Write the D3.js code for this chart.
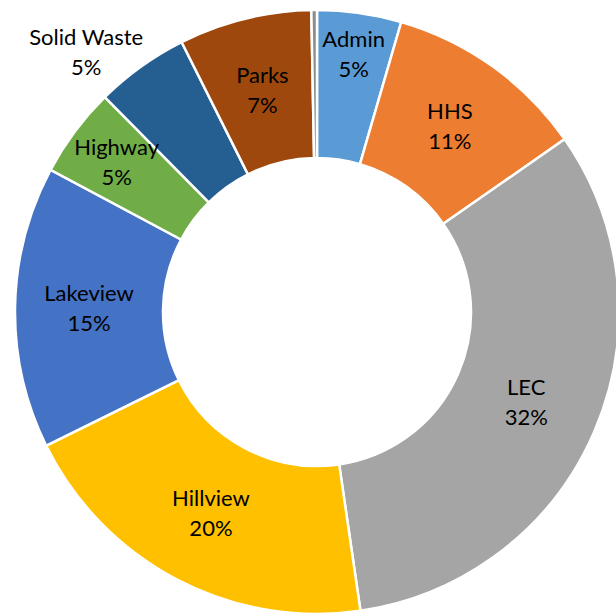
<!DOCTYPE html>
<html>
<head>
<meta charset="utf-8">
<script src="https://cdn.jsdelivr.net/npm/d3@7"></script>
<style>
  body { margin: 0; background: #fff; }
  svg { display: block; }
</style>
</head>
<body>
<div id="donut-chart"></div>
<script>
// departments, clockwise from 12 o'clock
var categories = ["Admin", "HHS", "LEC", "Hillview", "Lakeview", "Highway", "Solid Waste", "Parks", "Other"]
var values = [4.5, 10.8, 32.4, 20.0, 15.1, 4.8, 5.0, 7.1, 0.3]
var colors = ["#5B9BD5", "#ED7D31", "#A5A5A5", "#FFC000", "#4472C4", "#70AD47", "#255E91", "#9E480E", "#8C8C8C"]

var width = 616, height = 614
var cx = 317, cy = 312
var outerR = 302, innerR = 154

// labels that Excel pushed off the ring centroid
var labelFix = {
    "Admin": {r: 260},
    "Highway": {r: 250},
    "Solid Waste": {r: 347, a: 318.3}
}

var svg = d3.select("#donut-chart")
    .append("svg")
    .attr("width", width)
    .attr("height", height)

var g = svg.append("g").attr("transform", "translate(" + cx + "," + cy + ")")

var data = categories.map(function(c, i) { return {name: c, value: values[i], color: colors[i]} })

var pie = d3.pie()
    .value(function(d) { return d.value })
    .sort(null)

var arc = d3.arc()
    .innerRadius(innerR)
    .outerRadius(outerR)

var arcs = pie(data)

g.selectAll("path")
    .data(arcs)
    .enter().append("path")
    .attr("d", arc)
    .attr("fill", function(d) { return d.data.color })
    .attr("stroke", "#fff")
    .attr("stroke-width", 2.5)
    .attr("stroke-linejoin", "miter")

var labels = g.selectAll("g.label")
    .data(arcs.filter(function(d) { return d.data.value >= 1 }))
    .enter().append("g")
    .attr("class", "label")
    .attr("transform", function(d) {
        var fix = labelFix[d.data.name] || {}
        var r = fix.r || (innerR + outerR) / 2
        var a = fix.a !== undefined ? fix.a * Math.PI / 180 : (d.startAngle + d.endAngle) / 2
        return "translate(" + (r * Math.sin(a)) + "," + (-r * Math.cos(a)) + ")"
    })

labels.append("text")
    .attr("text-anchor", "middle")
    .attr("y", -7.5)
    .attr("font-family", "Lato, 'Open Sans', sans-serif")
    .attr("font-size", 22)
    .attr("fill", "#000")
    .text(function(d) { return d.data.name })

labels.append("text")
    .attr("text-anchor", "middle")
    .attr("y", 22.5)
    .attr("font-family", "Lato, 'Open Sans', sans-serif")
    .attr("font-size", 22)
    .attr("fill", "#000")
    .text(function(d) { return Math.round(d.data.value) + "%" })
</script>
</body>
</html>
